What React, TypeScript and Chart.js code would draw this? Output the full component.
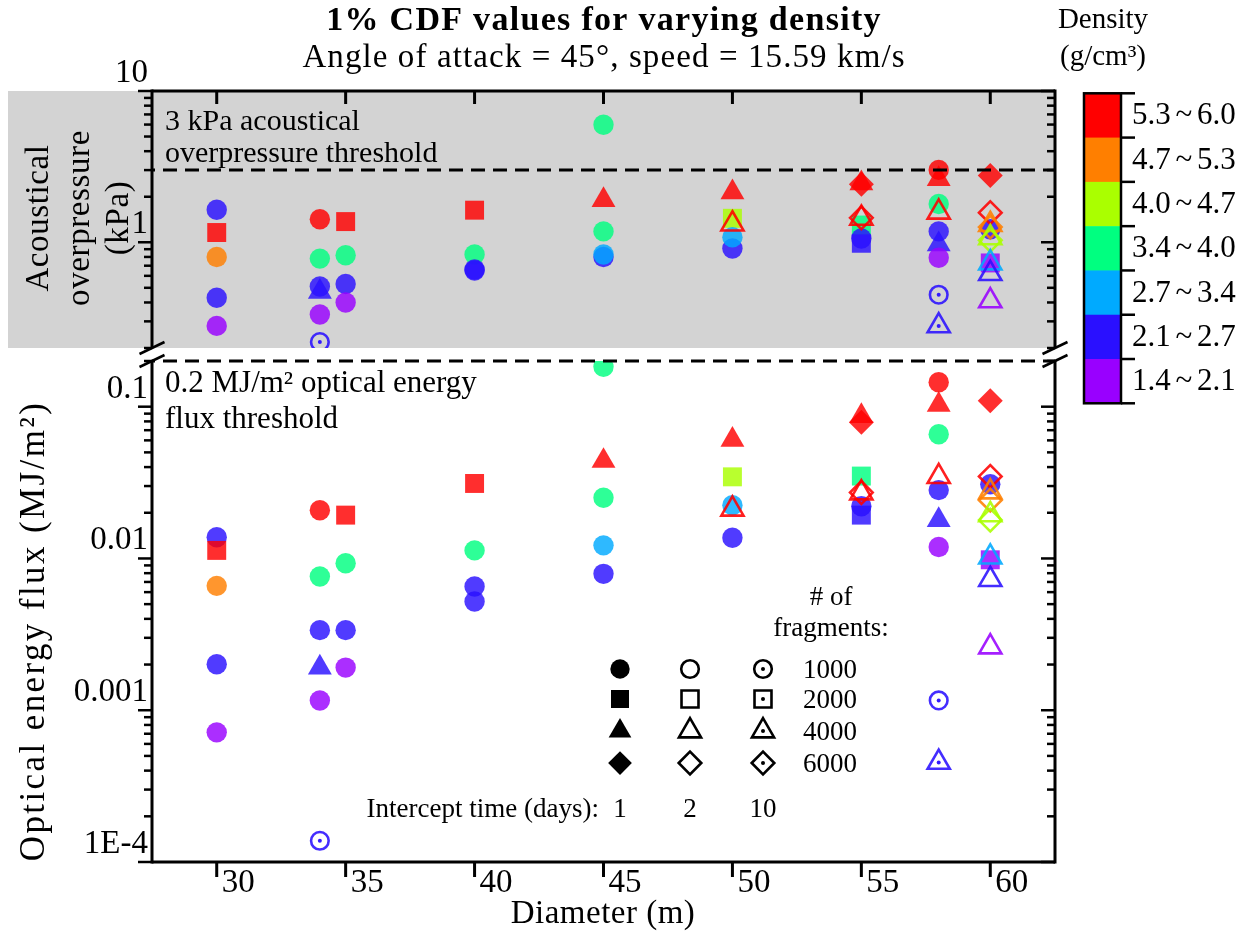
import React, { useEffect, useRef } from 'react';
import { Chart, registerables } from 'chart.js';
import { drawPoint } from 'chart.js/helpers';

Chart.register(...registerables);

// ---------- data ----------
const densityLabels = ['1.4 ~ 2.1', '2.1 ~ 2.7', '2.7 ~ 3.4', '3.4 ~ 4.0', '4.0 ~ 4.7', '4.7 ~ 5.3', '5.3 ~ 6.0'];
const densityColors = ['#9900FF', '#2A10FF', '#00AAFF', '#00FF80', '#AAFF00', '#FF7F00', '#FF0000'];

const fragmentCounts = [1000, 2000, 4000, 6000];
const fragmentLabels = ['1000', '2000', '4000', '6000'];
const interceptDays = [1, 2, 10];
const interceptLabels = ['1', '2', '10'];

const diameterTicks = [30, 35, 40, 45, 50, 55, 60];
const pressureTickValues = [10, 1];
const pressureTickLabels = ['10', '1'];
const fluxTickValues = [0.1, 0.01, 0.001, 0.0001];
const fluxTickLabels = ['0.1', '0.01', '0.001', '1E-4'];

const pressureThreshold = 3; // kPa
const fluxThreshold = 0.2; // MJ/m²

// one entry per simulated case
const caseDiameter = [
  30, 30, 30, 30, 30,
  34, 34, 34, 34, 34, 34,
  35, 35, 35, 35,
  40, 40, 40, 40,
  45, 45, 45, 45, 45,
  50, 50, 50, 50, 50,
  55, 55, 55, 55, 55, 55, 55,
  58, 58, 58, 58, 58, 58, 58, 58, 58,
  60, 60, 60, 60, 60, 60, 60, 60, 60, 60, 60,
];
// index into densityLabels / densityColors
const caseDensity = [
  1, 6, 5, 1, 0,
  6, 3, 1, 1, 0, 1,
  6, 3, 1, 0,
  6, 3, 1, 1,
  3, 6, 3, 1, 2,
  6, 4, 1, 2, 6,
  6, 6, 1, 3, 1, 6, 6,
  6, 6, 3, 1, 1, 0, 6, 1, 1,
  6, 1, 0, 6, 5, 5, 4, 4, 2, 1, 0,
];
const caseFragments = [
  1000, 2000, 1000, 1000, 1000,
  1000, 1000, 1000, 4000, 1000, 1000,
  2000, 1000, 1000, 1000,
  2000, 1000, 1000, 1000,
  1000, 4000, 1000, 1000, 1000,
  4000, 2000, 1000, 1000, 4000,
  4000, 6000, 2000, 2000, 1000, 6000, 4000,
  1000, 4000, 1000, 1000, 4000, 1000, 4000, 1000, 4000,
  6000, 1000, 2000, 6000, 4000, 6000, 4000, 6000, 4000, 4000, 4000,
];
const caseDays = [
  1, 1, 1, 1, 1,
  1, 1, 1, 1, 1, 10,
  1, 1, 1, 1,
  1, 1, 1, 1,
  1, 1, 1, 1, 1,
  1, 1, 1, 1, 2,
  1, 1, 1, 1, 1, 2, 2,
  1, 1, 1, 1, 1, 1, 2, 10, 10,
  1, 1, 1, 2, 2, 2, 2, 2, 2, 2, 2,
];
const overpressureKPa = [
  1.64, 1.16, 0.80, 0.43, 0.28,
  1.42, 0.78, 0.51, 0.47, 0.333, 0.219,
  1.37, 0.82, 0.53, 0.40,
  1.63, 0.83, 0.66, 0.65,
  5.98, 1.90, 1.18, 0.80, 0.83,
  2.14, 1.44, 0.91, 1.08, 1.32,
  2.45, 2.42, 0.985, 1.30, 1.06, 1.45, 1.44,
  3.01, 2.62, 1.79, 1.18, 0.97, 0.79, 1.58, 0.45, 0.28,
  2.76, 1.22, 0.73, 1.57, 1.31, 1.26, 1.07, 1.03, 0.73, 0.62, 0.41,
];
const opticalFluxMJ = [
  0.0138, 0.0113, 0.0066, 0.00201, 0.000715,
  0.0208, 0.0076, 0.00337, 0.00191, 0.00116, 0.000138,
  0.0193, 0.0093, 0.00337, 0.00191,
  0.0312, 0.0113, 0.00653, 0.00521,
  0.183, 0.0439, 0.0251, 0.00792, 0.0122,
  0.0604, 0.0345, 0.0137, 0.0224, 0.0211,
  0.0867, 0.0789, 0.0193, 0.0349, 0.0221, 0.0272, 0.0270,
  0.145, 0.103, 0.0659, 0.0282, 0.0179, 0.0119, 0.0346, 0.00116, 0.000453,
  0.1096, 0.0308, 0.0098, 0.0347, 0.0274, 0.0242, 0.0194, 0.0179, 0.0102, 0.00726, 0.00261,
];

// ---------- layout & style ----------
const PAGE_W = 1247;
const PAGE_H = 936;
const PLOT_LEFT = 152;
const PLOT_RIGHT = 1055;
const TOP_PANEL = { top: 91, bottom: 348 };
const BOTTOM_PANEL = { top: 361, bottom: 862 };
const X_MIN = 27.49;
const X_MAX = 62.51;
const SERIF = '"Liberation Serif", "Times New Roman", serif';
const AXIS_LW = 3;
const FILL_ALPHA = 0.82;

const markerStyles = ['circle', 'rect', 'triangle', 'rectRot'];
const filledRadius: Record<string, number> = { circle: 10.2, rect: 13.4, triangle: 13.8, rectRot: 12.5 };
const openRadius: Record<string, number> = { circle: 8.8, rect: 12, triangle: 12.8, rectRot: 11.3 };

function rgba(hex: string, a: number) {
  const n = parseInt(hex.slice(1), 16);
  return `rgba(${(n >> 16) & 255},${(n >> 8) & 255},${n & 255},${a})`;
}

const styleOf = (i: number) => markerStyles[fragmentCounts.indexOf(caseFragments[i])];

function buildDatasets(values: number[]) {
  const pts = caseDiameter.map((d, i) => ({ x: d, y: values[i] }));
  const idx = pts.map((_, i) => i);
  const dotIdx = idx.filter((i) => caseDays[i] === interceptDays[2]);
  return [
    {
      label: 'cases',
      data: pts,
      order: 2,
      showLine: false,
      pointStyle: idx.map(styleOf),
      pointRadius: idx.map((i) => (caseDays[i] === interceptDays[0] ? filledRadius[styleOf(i)] : openRadius[styleOf(i)])),
      backgroundColor: idx.map((i) =>
        caseDays[i] === interceptDays[0] ? rgba(densityColors[caseDensity[i]], FILL_ALPHA) : 'rgba(0,0,0,0)'
      ),
      borderColor: idx.map((i) => rgba(densityColors[caseDensity[i]], 0.88)),
      borderWidth: idx.map((i) => (caseDays[i] === interceptDays[0] ? 0 : 2.6)),
    },
    {
      label: 'centre dots',
      data: dotIdx.map((i) => pts[i]),
      order: 1,
      showLine: false,
      pointStyle: 'circle',
      pointRadius: 2,
      backgroundColor: dotIdx.map((i) => rgba(densityColors[caseDensity[i]], 0.95)),
      borderWidth: 0,
    },
  ];
}

type TextOpts = { bold?: boolean; align?: CanvasTextAlign; baseline?: CanvasTextBaseline; spacing?: number; rotate?: number };
function drawText(ctx: CanvasRenderingContext2D, str: string, x: number, y: number, size: number, o: TextOpts = {}) {
  ctx.save();
  ctx.font = `${o.bold ? 'bold ' : ''}${size}px ${SERIF}`;
  ctx.fillStyle = '#000';
  ctx.textAlign = o.align || 'left';
  ctx.textBaseline = o.baseline || 'alphabetic';
  if (o.spacing) (ctx as any).letterSpacing = `${o.spacing}px`;
  if (o.rotate) {
    ctx.translate(x, y);
    ctx.rotate(o.rotate);
    ctx.fillText(str, 0, 0);
  } else {
    ctx.fillText(str, x, y);
  }
  ctx.restore();
}

function line(ctx: CanvasRenderingContext2D, x1: number, y1: number, x2: number, y2: number, lw = AXIS_LW) {
  ctx.save();
  ctx.strokeStyle = '#000';
  ctx.lineWidth = lw;
  ctx.beginPath();
  ctx.moveTo(x1, y1);
  ctx.lineTo(x2, y2);
  ctx.stroke();
  ctx.restore();
}

function logTickValues(min: number, max: number) {
  const out: { v: number; major: boolean }[] = [];
  for (let e = Math.floor(Math.log10(min)) - 1; e <= Math.ceil(Math.log10(max)); e++) {
    for (let k = 1; k < 10; k++) {
      const v = k * Math.pow(10, e);
      if (v >= min * 0.999 && v <= max * 1.001) out.push({ v, major: k === 1 });
    }
  }
  return out;
}

function drawYTicks(chart: any, min: number, max: number) {
  const { ctx, chartArea: a } = chart;
  const y = chart.scales.y;
  for (const t of logTickValues(min, max)) {
    const py = y.getPixelForValue(t.v);
    const len = t.major ? 14 : 8;
    line(ctx, a.left - len, py, a.left, py, 2.5);
    line(ctx, a.right - len, py, a.right, py, 2.5);
  }
}

function drawDashed(chart: any, value: number) {
  const { ctx, chartArea: a } = chart;
  const py = chart.scales.y.getPixelForValue(value);
  ctx.save();
  ctx.strokeStyle = '#000';
  ctx.lineWidth = 3;
  ctx.setLineDash([14, 8]);
  ctx.lineDashOffset = 11;
  ctx.beginPath();
  ctx.moveTo(a.left, py);
  ctx.lineTo(a.right, py);
  ctx.stroke();
  ctx.restore();
}

// ---------- top panel: acoustical overpressure ----------
const topPanelDecor = {
  id: 'topPanelDecor',
  beforeDatasetsDraw(chart: any) {
    const { ctx, chartArea: a } = chart;
    ctx.save();
    ctx.fillStyle = '#D3D3D3';
    ctx.fillRect(8, a.top, a.right - 8, a.bottom - a.top);
    ctx.restore();
  },
  afterDatasetsDraw(chart: any) {
    const { chartArea: a, ctx } = chart;
    drawDashed(chart, pressureThreshold);
    drawText(ctx, '3 kPa acoustical', a.left + 13, 130, 30);
    drawText(ctx, 'overpressure threshold', a.left + 13, 162, 30);
  },
  afterDraw(chart: any) {
    const { ctx, chartArea: a } = chart;
    const x = chart.scales.x;
    const y = chart.scales.y;
    // frame
    line(ctx, a.left, a.top, a.right, a.top);
    line(ctx, a.left, a.top - 1.5, a.left, a.bottom);
    line(ctx, a.right, a.top - 1.5, a.right, a.bottom);
    drawYTicks(chart, y.min, y.max);
    for (const d of diameterTicks) {
      const px = x.getPixelForValue(d);
      line(ctx, px, a.top, px, a.top + 13, 3);
    }
    pressureTickValues.forEach((v, i) => {
      drawText(ctx, pressureTickLabels[i], a.left - 4, y.getPixelForValue(v) - 9, 33, { align: 'right' });
    });
    // y-axis title (three lines)
    const cy = 218;
    drawText(ctx, 'Acoustical', 48, cy, 33, { align: 'center', rotate: -Math.PI / 2, spacing: 0.6 });
    drawText(ctx, 'overpressure', 89, cy, 33, { align: 'center', rotate: -Math.PI / 2, spacing: 0.6 });
    drawText(ctx, '(kPa)', 128, cy, 33, { align: 'center', rotate: -Math.PI / 2, spacing: 0.6 });

    // titles
    drawText(ctx, '1% CDF values for varying density', 604, 30, 34, { bold: true, align: 'center', spacing: 1.3 });
    drawText(ctx, 'Angle of attack = 45°, speed = 15.59 km/s', 604, 67, 33, { align: 'center', spacing: 1.1 });

    // density colour bar
    const cbL = 1084, cbR = 1121, cbT = 93.3, cbB = 403.3;
    const band = (cbB - cbT) / densityColors.length;
    for (let k = 0; k < densityColors.length; k++) {
      const cls = densityColors.length - 1 - k;
      ctx.fillStyle = densityColors[cls];
      ctx.fillRect(cbL, cbT + k * band, cbR - cbL, band + 0.5);
    }
    ctx.save();
    ctx.strokeStyle = '#000';
    ctx.lineWidth = 2.5;
    ctx.strokeRect(cbL, cbT, cbR - cbL, cbB - cbT);
    ctx.restore();
    for (let k = 0; k <= densityColors.length; k++) {
      line(ctx, cbR, cbT + k * band, cbR + 14, cbT + k * band, 2.5);
    }
    for (let k = 0; k < densityColors.length; k++) {
      const cls = densityColors.length - 1 - k;
      ctx.save();
      (ctx as any).wordSpacing = '-3px';
      ctx.font = `31px ${SERIF}`;
      ctx.fillStyle = '#000';
      ctx.textBaseline = 'alphabetic';
      ctx.fillText(densityLabels[cls], cbR + 11, cbT + (k + 0.5) * band + 9);
      ctx.restore();
    }
    drawText(ctx, 'Density', 1103, 28, 29, { align: 'center' });
    drawText(ctx, '(g/cm³)', 1103, 65, 29, { align: 'center' });
  },
};

// ---------- bottom panel: optical energy flux ----------
const bottomPanelDecor = {
  id: 'bottomPanelDecor',
  afterDatasetsDraw(chart: any) {
    const { chartArea: a, ctx } = chart;
    drawDashed(chart, fluxThreshold);
    drawText(ctx, '0.2 MJ/m² optical energy', a.left + 13, 392, 31);
    drawText(ctx, 'flux threshold', a.left + 13, 428, 31);
  },
  afterDraw(chart: any) {
    const { ctx, chartArea: a } = chart;
    const x = chart.scales.x;
    const y = chart.scales.y;
    line(ctx, a.left, a.bottom, a.right, a.bottom);
    line(ctx, a.left, a.top, a.left, a.bottom + 1.5);
    line(ctx, a.right, a.top, a.right, a.bottom + 1.5);
    drawYTicks(chart, y.min, y.max);
    for (const d of diameterTicks) {
      const px = x.getPixelForValue(d);
      line(ctx, px, a.bottom, px, a.bottom + 15, 3);
      drawText(ctx, String(d), px + 5, a.bottom + 30, 33);
    }
    fluxTickValues.forEach((v, i) => {
      drawText(ctx, fluxTickLabels[i], a.left - 4, y.getPixelForValue(v) - 9, 33, { align: 'right' });
    });
    drawText(ctx, 'Diameter (m)', 603, 923, 33, { align: 'center', spacing: 0.5 });
    drawText(ctx, 'Optical energy flux (MJ/m²)', 44, 631, 35, { align: 'center', rotate: -Math.PI / 2, spacing: 2.4 });

    // axis break marks between the panels
    for (const bx of [a.left, a.right]) {
      line(ctx, bx - 12.5, TOP_PANEL.bottom + 6, bx + 12.5, TOP_PANEL.bottom - 6, 2.5);
      line(ctx, bx - 12.5, a.top + 6, bx + 12.5, a.top - 6, 2.5);
    }

    // marker key: fragments (rows) x intercept time (columns)
    const colX = [620, 690, 763];
    const rowY = [669, 699, 731, 763];
    drawText(ctx, '# of', 831, 605, 27, { align: 'center' });
    drawText(ctx, 'fragments:', 831, 636, 27, { align: 'center' });
    fragmentCounts.forEach((f, r) => {
      const st = markerStyles[r];
      interceptDays.forEach((dd, c) => {
        ctx.save();
        ctx.strokeStyle = '#000';
        ctx.fillStyle = c === 0 ? '#000' : 'rgba(0,0,0,0)';
        ctx.lineWidth = c === 0 ? 0 : 2.6;
        const radius = c === 0 ? filledRadius[st] * 0.95 : openRadius[st];
        drawPoint(ctx, { pointStyle: st, radius, rotation: 0, borderWidth: c === 0 ? 0 : 2.6 } as any, colX[c], rowY[r]);
        if (c === 2) {
          ctx.fillStyle = '#000';
          drawPoint(ctx, { pointStyle: 'circle', radius: 2, rotation: 0, borderWidth: 0 } as any, colX[c], rowY[r]);
        }
        ctx.restore();
      });
      drawText(ctx, fragmentLabels[r], 803, rowY[r] + 9, 27);
    });
    drawText(ctx, 'Intercept time (days):', 599, 817, 27, { align: 'right' });
    interceptLabels.forEach((t, c) => drawText(ctx, t, colX[c], 817, 27, { align: 'center' }));
  },
};

function makeConfig(values: number[], yMin: number, yMax: number, panel: { top: number; bottom: number }, plugin: any) {
  return {
    type: 'scatter' as const,
    data: { datasets: buildDatasets(values) as any },
    options: {
      responsive: false,
      animation: false as const,
      events: [],
      layout: {
        padding: { left: PLOT_LEFT, right: PAGE_W - PLOT_RIGHT, top: panel.top, bottom: PAGE_H - panel.bottom },
      },
      plugins: { legend: { display: false }, tooltip: { enabled: false }, title: { display: false } },
      scales: {
        x: { type: 'linear' as const, min: X_MIN, max: X_MAX, display: false },
        y: { type: 'logarithmic' as const, min: yMin, max: yMax, display: false },
      },
    },
    plugins: [plugin],
  };
}

export default function App() {
  const topRef = useRef<HTMLCanvasElement>(null);
  const bottomRef = useRef<HTMLCanvasElement>(null);

  useEffect(() => {
    const top = new Chart(topRef.current!, makeConfig(overpressureKPa, 0.2, 10, TOP_PANEL, topPanelDecor) as any);
    const bottom = new Chart(bottomRef.current!, makeConfig(opticalFluxMJ, 0.0001, 0.2, BOTTOM_PANEL, bottomPanelDecor) as any);
    return () => {
      top.destroy();
      bottom.destroy();
    };
  }, []);

  const canvasStyle: React.CSSProperties = { position: 'absolute', left: 0, top: 0, width: PAGE_W, height: PAGE_H };
  return (
    <div style={{ position: 'absolute', left: 0, top: 0, width: PAGE_W, height: PAGE_H, background: '#fff' }}>
      <canvas ref={topRef} width={PAGE_W} height={PAGE_H} style={canvasStyle} />
      <canvas ref={bottomRef} width={PAGE_W} height={PAGE_H} style={canvasStyle} />
    </div>
  );
}
